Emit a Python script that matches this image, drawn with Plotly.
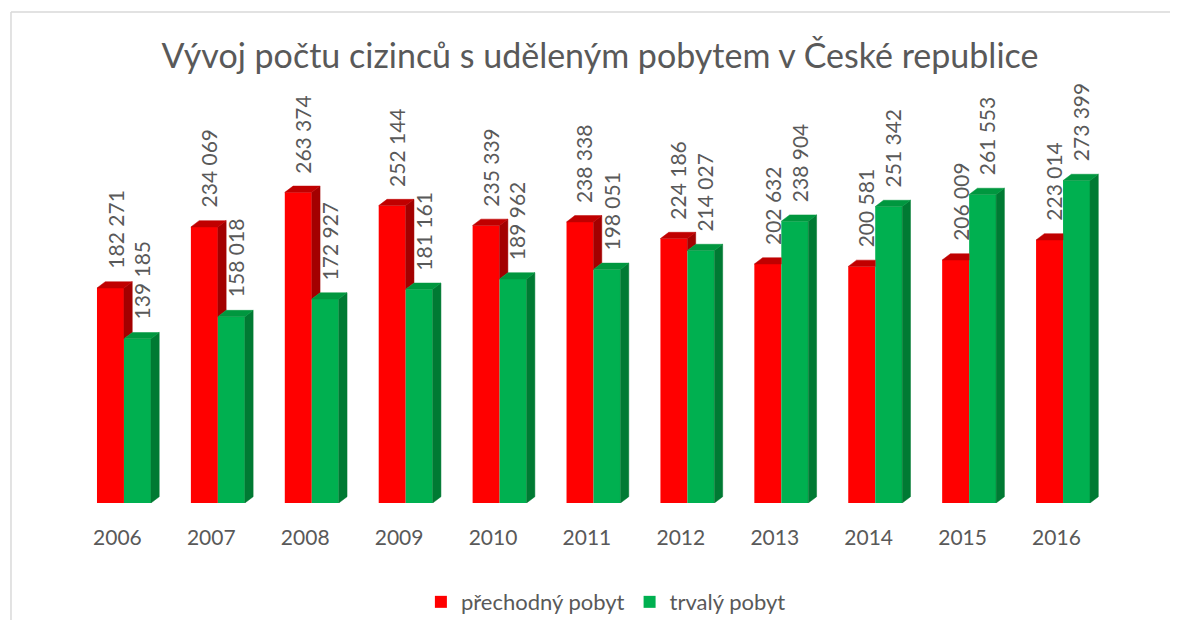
import plotly.graph_objects as go

# ---- data ----
years = ["2006", "2007", "2008", "2009", "2010", "2011", "2012", "2013", "2014", "2015", "2016"]
prechodny = [182271, 234069, 263374, 252144, 235339, 238338, 224186, 202632, 200581, 206009, 223014]
trvaly = [139185, 158018, 172927, 181161, 189962, 198051, 214027, 238904, 251342, 261553, 273399]
series_names = ["přechodný pobyt", "trvalý pobyt"]

# ---- style / geometry ----
RED, RED_SIDE, RED_TOP = "#FF0000", "#A30000", "#C00000"
GRN, GRN_SIDE, GRN_TOP = "#00B050", "#007A33", "#00973F"
TXT = "#595959"
FONT = "Lato"

FIG_W, FIG_H = 1170, 612
M_L, M_R, M_T, M_B = 69, 68, 94, 117

W = 27 / 94.0        # bar width in category units
DX = 8.3 / 94.0      # 3D depth offset (x)
YMAX = 340000
PLOT_H = FIG_H - M_T - M_B
DY = 6.3 * YMAX / PLOT_H  # 3D depth offset (y), in data units

xs = list(range(len(years)))

fig = go.Figure()
fig.add_trace(go.Bar(x=xs, y=prechodny, width=W, offset=-W, name=series_names[0],
                     marker=dict(color=RED, line=dict(width=0)), hoverinfo="skip"))
fig.add_trace(go.Bar(x=xs, y=trvaly, width=W, offset=0, name=series_names[1],
                     marker=dict(color=GRN, line=dict(width=0)), hoverinfo="skip"))

def poly_trace(px, py, color):
    return go.Scatter(x=px, y=py, mode="lines", fill="toself", fillcolor=color,
                      line=dict(color=color, width=0.5), showlegend=False,
                      hoverinfo="skip")

rs_x, rs_y, rt_x, rt_y, gs_x, gs_y, gt_x, gt_y = [], [], [], [], [], [], [], []
for i, r, g in zip(xs, prechodny, trvaly):
    xl, xm, xr = i - W, i, i + W
    if r > g:
        rs_x += [xm, xm, xm + DX, xm + DX, xm, None]
        rs_y += [g, r, r + DY, g + DY, g, None]
        rt_x += [xl, xm, xm + DX, xl + DX, xl, None]
        rt_y += [r, r, r + DY, r + DY, r, None]
    else:
        rt_x += [xl, xm, xm, xl + DX, xl, None]
        rt_y += [r, r, r + DY, r + DY, r, None]
    gs_x += [xr, xr, xr + DX, xr + DX, xr, None]
    gs_y += [0, g, g + DY, DY, 0, None]
    gt_x += [xm, xr, xr + DX, xm + DX, xm, None]
    gt_y += [g, g, g + DY, g + DY, g, None]

fig.add_trace(poly_trace(rs_x, rs_y, RED_SIDE))
fig.add_trace(poly_trace(rt_x, rt_y, RED_TOP))
fig.add_trace(poly_trace(gs_x, gs_y, GRN_SIDE))
fig.add_trace(poly_trace(gt_x, gt_y, GRN_TOP))

def fmt(v):
    return f"{v:,}".replace(",", " ")

annotations = []
for i, r, g in zip(xs, prechodny, trvaly):
    for val, cx in ((r, i - W / 2 + DX / 2), (g, i + W / 2 + DX / 2)):
        annotations.append(dict(x=cx, y=val, xref="x", yref="y", text=fmt(val),
                                textangle=-90, showarrow=False, xanchor="center",
                                yanchor="bottom", yshift=17,
                                font=dict(family=FONT, size=21, color=TXT)))

fig.update_layout(
    width=FIG_W, height=FIG_H,
    margin=dict(l=M_L, r=M_R, t=M_T, b=M_B, autoexpand=False),
    paper_bgcolor="white", plot_bgcolor="white",
    barmode="overlay",
    title=dict(text="Vývoj počtu cizinců s uděleným pobytem v České republice",
               x=0.506, xref="container", xanchor="center",
               y=0.921, yref="container", yanchor="middle",
               font=dict(family=FONT, size=34, color=TXT)),
    xaxis=dict(range=[-0.5, 10.5], tickvals=[i - 0.07 for i in xs], ticktext=years,
               showgrid=False, zeroline=False, showline=False, ticks="",
               ticklabelstandoff=20,
               tickfont=dict(family=FONT, size=21, color=TXT), fixedrange=True),
    yaxis=dict(range=[0, YMAX], visible=False, showgrid=False, zeroline=False,
               fixedrange=True),
    legend=dict(orientation="h", x=0.512, xanchor="center", y=-0.247, yanchor="middle",
                font=dict(family=FONT, size=22, color=TXT), bgcolor="rgba(0,0,0,0)",
                itemclick=False, itemdoubleclick=False),
    annotations=annotations,
    shapes=[
        dict(type="line", xref="paper", yref="paper", x0=-0.0639, x1=1.08,
             y0=1.2244, y1=1.2244, line=dict(color="#D9D9D9", width=1.5)),
        dict(type="line", xref="paper", yref="paper", x0=-0.0639, x1=-0.0639,
             y0=1.2244, y1=-0.32, line=dict(color="#D9D9D9", width=1.5)),
    ],
    showlegend=True,
)

fig.write_html("out.html")
